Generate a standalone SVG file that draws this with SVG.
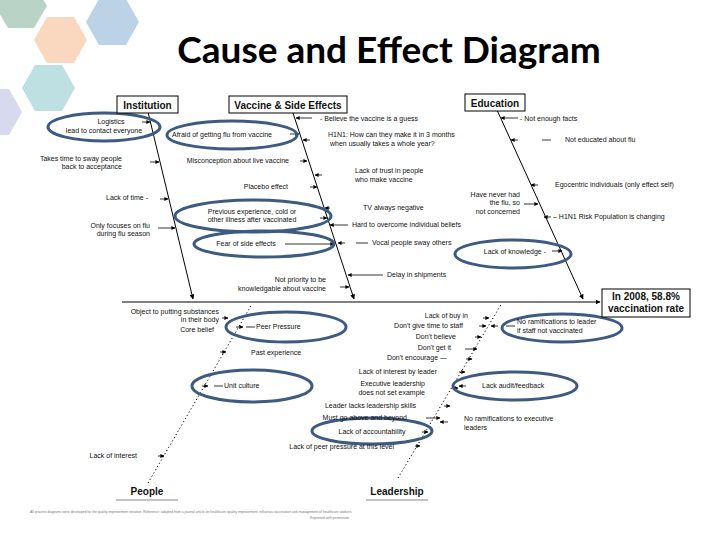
<svg xmlns="http://www.w3.org/2000/svg" width="720" height="540" viewBox="0 0 720 540">
<defs>
<marker id="ah" viewBox="0 0 10 10" refX="9" refY="5" markerWidth="5" markerHeight="5" orient="auto"><path d="M0,0L10,5L0,10z" fill="#000"/></marker>
<style>
text{font-family:"Liberation Sans",Arial,sans-serif;font-size:7px;fill:#111}
.r{text-anchor:end}.m{text-anchor:middle}
.hd{font-size:10px;font-weight:bold}
.sp{stroke:#000;stroke-width:1;fill:none}
.dt{stroke:#000;stroke-width:1;stroke-dasharray:1.2 2.5;fill:none}
.a{stroke:#000;stroke-width:0.8;fill:none;marker-end:url(#ah)}
.ln{stroke:#000;stroke-width:0.8}
.el{fill:none;stroke:#3d5a80;stroke-width:3}
.bx{fill:#fff;stroke:#000;stroke-width:1}
</style>
</defs>
<rect width="720" height="540" fill="#fff"/>
<g id="hexes">
<polygon points="47,0 34,22 8,22 -5,0 8,-22 34,-22" fill="#b9d3c6" transform="translate(0,6)"/>
<polygon points="87,40 74,63 47,63 34,40 47,17 74,17" fill="#fad8bf"/>
<polygon points="139,22 126,45 99,45 86,22 99,-1 126,-1" fill="#bcd2e6"/>
<polygon points="75,88 62,111 35,111 22,88 35,65 62,65" fill="#bfe0e2"/>
<polygon points="22,112 9,135 -18,135 -31,112 -18,89 9,89" fill="#d7d9ee"/>
</g>
<text x="389" y="63" class="m" style="font-family:Lato,'Open Sans',sans-serif;font-size:37px;font-weight:bold;fill:#000">Cause and Effect Diagram</text>
<g id="connectors">
<line class="sp" x1="122" y1="302" x2="600" y2="302" marker-end="url(#ah)"/>
<line class="sp" x1="148" y1="112" x2="193" y2="299" marker-end="url(#ah)"/>
<line class="sp" x1="293" y1="113" x2="354" y2="299" marker-end="url(#ah)"/>
<line class="sp" x1="497" y1="110" x2="583" y2="299" marker-end="url(#ah)"/>
<line class="dt" x1="148" y1="483" x2="252" y2="304"/>
<line class="dt" x1="398" y1="478" x2="502" y2="303"/>
<line class="a" x1="142" y1="122" x2="150" y2="122"/>
<line class="a" x1="150" y1="162" x2="159" y2="162"/>
<line class="a" x1="160" y1="199" x2="168" y2="199"/>
<line class="a" x1="158" y1="228" x2="175" y2="228"/>
<line class="a" x1="290" y1="134" x2="299" y2="134"/>
<line class="a" x1="300" y1="161" x2="307" y2="161"/>
<line class="a" x1="310" y1="187" x2="317" y2="187"/>
<line class="a" x1="320" y1="218" x2="327" y2="218"/>
<line class="a" x1="285" y1="244" x2="334" y2="244"/>
<line class="a" x1="340" y1="287" x2="349" y2="287"/>
<line class="a" x1="312" y1="118" x2="296" y2="118"/>
<line class="a" x1="310" y1="140" x2="303" y2="140"/>
<line class="a" x1="322" y1="175" x2="315" y2="175"/>
<line class="a" x1="330" y1="208" x2="325" y2="208"/>
<line class="a" x1="348" y1="225" x2="330" y2="225"/>
<line class="ln" x1="356" y1="243" x2="368" y2="243"/><line class="a" x1="345" y1="243" x2="338" y2="243"/>
<line class="a" x1="383" y1="275" x2="348" y2="275"/>
<line class="a" x1="518" y1="118" x2="501" y2="118"/>
<line class="ln" x1="542" y1="140" x2="551" y2="140"/><line class="a" x1="518" y1="140" x2="511" y2="140"/>
<line class="a" x1="538" y1="185" x2="531" y2="185"/>
<line class="a" x1="524" y1="204" x2="538" y2="204"/>
<line class="a" x1="551" y1="217" x2="544" y2="217"/>
<line class="a" x1="552" y1="251" x2="562" y2="251"/>
<line class="a" x1="222" y1="318" x2="228" y2="318"/>
<line class="ln" x1="246" y1="327" x2="255" y2="327"/><line class="a" x1="236" y1="327" x2="243" y2="327"/>
<line class="a" x1="220" y1="352" x2="226" y2="352"/>
<line class="ln" x1="214" y1="386" x2="223" y2="386"/><line class="a" x1="202" y1="386" x2="208" y2="386"/>
<line class="a" x1="158" y1="456" x2="164" y2="456"/>
<line class="a" x1="483" y1="318" x2="489" y2="318"/>
<line class="a" x1="479" y1="326" x2="486" y2="326"/>
<line class="a" x1="475" y1="337" x2="481" y2="337"/>
<line class="a" x1="465" y1="349" x2="477" y2="349"/>
<line class="a" x1="466" y1="359" x2="472" y2="359"/>
<line class="a" x1="459" y1="372" x2="465" y2="372"/>
<line class="a" x1="452" y1="388" x2="458" y2="388"/>
<line class="a" x1="444" y1="406" x2="450" y2="406"/>
<line class="a" x1="426" y1="418" x2="440" y2="418"/>
<line class="a" x1="422" y1="432" x2="428" y2="432"/>
<line class="a" x1="415" y1="446" x2="420" y2="446"/>
<line class="ln" x1="506" y1="326" x2="515" y2="326"/><line class="a" x1="498" y1="326" x2="491" y2="326"/>
<line class="a" x1="466" y1="386" x2="459" y2="386"/>
<line class="a" x1="448" y1="422" x2="440" y2="422"/>
</g>
<g id="ellipses">
<ellipse class="el" cx="104" cy="127" rx="56" ry="14"/>
<ellipse class="el" cx="232" cy="135" rx="65" ry="14"/>
<ellipse class="el" cx="253" cy="216" rx="78" ry="16"/>
<ellipse class="el" cx="264" cy="244" rx="70" ry="13"/>
<ellipse class="el" cx="513" cy="254" rx="58" ry="14"/>
<ellipse class="el" cx="286" cy="327" rx="60" ry="15"/>
<ellipse class="el" cx="252" cy="386" rx="60" ry="16"/>
<ellipse class="el" cx="562" cy="328" rx="60" ry="14"/>
<ellipse class="el" cx="515" cy="386" rx="62" ry="14"/>
<ellipse class="el" cx="372" cy="431" rx="60" ry="13"/>
</g>
<g id="institution"><rect class="bx" x="117" y="96" width="61" height="17"/><text x="147.5" y="108.5" class="m hd">Institution</text></g>
<g id="vaccine"><rect class="bx" x="229" y="96" width="118" height="17"/><text x="288" y="108.5" class="m hd">Vaccine &amp; Side Effects</text></g>
<g id="education"><rect class="bx" x="465" y="94" width="60" height="17"/><text x="495" y="106.5" class="m hd">Education</text></g>
<g id="result"><rect class="bx" x="602" y="289" width="88" height="28"/><text x="646" y="300" class="m hd">In 2008, 58.8%</text><text x="646" y="312" class="m hd">vaccination rate</text></g>
<g id="people"><text x="147" y="495" class="m hd">People</text><line x1="116" y1="500" x2="178" y2="500" stroke="#888"/></g>
<g id="leadership"><text x="397" y="495" class="m hd">Leadership</text><line x1="366" y1="500" x2="428" y2="500" stroke="#888"/></g>
<g id="labels">
<text x="111" y="124" class="m">Logistics</text><text x="104" y="133" class="m">lead to contact everyone</text>
<text x="122" y="161" class="r">Takes time to sway people</text><text x="122" y="169" class="r">back to  acceptance</text>
<text x="148" y="200" class="r">Lack of time -</text>
<text x="150" y="228" class="r">Only focuses on flu</text><text x="150" y="236" class="r">during flu season</text>
<text x="222" y="137" class="m">Afraid of getting flu from vaccine</text>
<text x="289" y="163" class="r">Misconception about live vaccine</text>
<text x="288" y="189" class="r">Placebo effect</text>
<text x="252" y="214" class="m">Previous experience, cold or</text><text x="252" y="222" class="m">other illness after vaccinated</text>
<text x="246" y="246" class="m">Fear of side effects</text>
<text x="326" y="282" class="r">Not priority to be</text><text x="326" y="291" class="r">knowledgable about vaccine</text>
<text x="320" y="121">- Believe the vaccine is a guess</text>
<text x="328" y="137">H1N1:  How can they make it in 3 months</text><text x="330" y="146">when usually takes a whole year?</text>
<text x="355" y="173">Lack of trust in people</text><text x="355" y="182">who make vaccine</text>
<text x="363" y="210">TV always negative</text>
<text x="352" y="227">Hard to overcome individual beliefs</text>
<text x="372" y="245">Vocal people sway others</text>
<text x="387" y="277">Delay in shipments</text>
<text x="520" y="121">- Not enough facts</text>
<text x="565" y="142">Not educated about flu</text>
<text x="555" y="187">Egocentric individuals (only effect self)</text>
<text x="520" y="197" class="r">Have never had</text><text x="520" y="205" class="r">the flu, so</text><text x="520" y="214" class="r">not concerned</text>
<text x="553" y="219">– H1N1 Risk Population is changing</text>
<text x="546" y="254" class="r">Lack of knowledge -</text>
<text x="219" y="314" class="r">Object to putting substances</text><text x="219" y="322" class="r">in their body</text>
<text x="214" y="332" class="r">Core belief</text>
<text x="256" y="329">Peer Pressure</text>
<text x="251" y="355">Past experience</text>
<text x="224" y="388">Unit culture</text>
<text x="137" y="458" class="r">Lack of interest</text>
<text x="468" y="318" class="r">Lack of buy in</text>
<text x="463" y="328" class="r">Don't give time to staff</text>
<text x="456" y="339" class="r">Don't believe</text>
<text x="451" y="350" class="r">Don't get it</text>
<text x="447" y="360" class="r">Don't encourage —</text>
<text x="437" y="374" class="r">Lack of  interest by leader</text>
<text x="425" y="386" class="r">Executive leadership</text><text x="425" y="395" class="r">does not set example</text>
<text x="416" y="408" class="r">Leader lacks leadership skills</text>
<text x="407" y="420" class="r">Must go above and beyond</text>
<text x="372" y="434" class="m">Lack of accountability</text>
<text x="394" y="449" class="r">Lack of peer pressure at this level</text>
<text x="517" y="324">No ramifications to leader</text><text x="517" y="333">if staff not vaccinated</text>
<text x="482" y="388">Lack audit/feedback</text>
<text x="464" y="421">No ramifications to  executive</text><text x="464" y="430">leaders</text>
</g>
<g id="footer">
<text x="30" y="513" style="font-size:3.4px;fill:#777">All process diagrams were developed for the quality improvement initiative. Reference: adapted from a journal article on healthcare quality improvement, influenza vaccination and management of healthcare workers.</text>
<text x="310" y="519" style="font-size:3.4px;fill:#777">Reprinted with permission.</text>
</g>
</svg>
